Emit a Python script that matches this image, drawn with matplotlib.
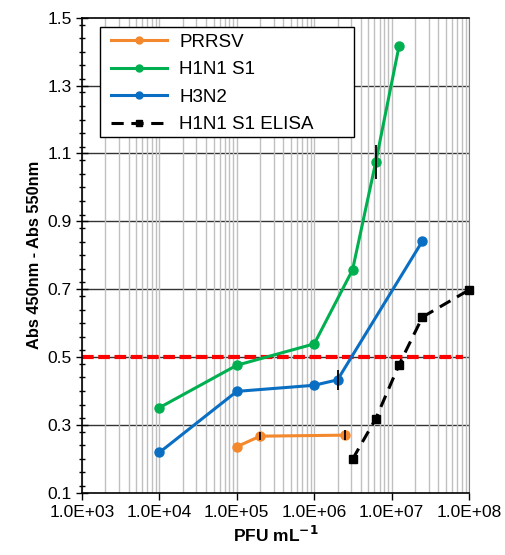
import matplotlib
matplotlib.use('Agg')
import matplotlib.pyplot as plt
import numpy as np
from matplotlib.ticker import FixedLocator, MultipleLocator, NullFormatter
from matplotlib.patches import Rectangle

plt.rcParams['font.family'] = ['Liberation Sans', 'DejaVu Sans']

# data
prrsv_x = [1e5, 2e5, 2.5e6]
prrsv_y = [0.236, 0.267, 0.270]
prrsv_err = [0.0, 0.012, 0.015]

h1n1_x = [1e4, 1e5, 1e6, 3.125e6, 6.25e6, 1.25e7]
h1n1_y = [0.351, 0.476, 0.539, 0.757, 1.076, 1.418]
h1n1_err = [0.0, 0.0, 0.0, 0.0, 0.05, 0.0]

h3n2_x = [1e4, 1e5, 1e6, 2e6, 2.5e7]
h3n2_y = [0.219, 0.399, 0.417, 0.433, 0.842]
h3n2_err = [0.0, 0.0, 0.0, 0.03, 0.0]

elisa_x = [3.125e6, 6.25e6, 1.25e7, 2.5e7, 1e8]
elisa_y = [0.199, 0.319, 0.478, 0.618, 0.698]
elisa_err = [0.01, 0.0, 0.0, 0.0, 0.0]

cutoff = 0.5

xticks = [1e3, 1e4, 1e5, 1e6, 1e7, 1e8]
xticklabels = ['1.0E+03', '1.0E+04', '1.0E+05', '1.0E+06', '1.0E+07', '1.0E+08']
yticks = [0.1, 0.3, 0.5, 0.7, 0.9, 1.1, 1.3, 1.5]

fig = plt.figure(figsize=(5.06, 5.55), dpi=100)
ax = fig.add_axes([0.162, 0.112, 0.765, 0.856])

ax.set_xscale('log')
ax.set_xlim(1e3, 1e8)
ax.set_ylim(0.1, 1.5)

# grid
ax.xaxis.set_minor_locator(FixedLocator([m * 10**e for e in range(3, 8) for m in range(2, 10)]))
ax.xaxis.set_minor_formatter(NullFormatter())
ax.grid(True, which='both', axis='x', color='#c0c0c0', lw=1.0)
for yv in yticks[1:-1]:
    ax.axhline(yv, color='#333333', lw=1.0, zorder=1)

ax.axhline(cutoff, xmin=0, xmax=0.985, color='#ff0000', lw=3, ls=(0, (2.8, 1.1)), zorder=2)

series = [
    (prrsv_x, prrsv_y, prrsv_err, '#f4882c', '-', 'o', 6.5, 'PRRSV'),
    (h1n1_x, h1n1_y, h1n1_err, '#00b050', '-', 'o', 6.5, 'H1N1 S1'),
    (h3n2_x, h3n2_y, h3n2_err, '#0a6fc2', '-', 'o', 6.5, 'H3N2'),
    (elisa_x, elisa_y, elisa_err, 'black', (0, (4, 2.5)), 's', 5.5, 'H1N1 S1 ELISA'),
]
for x, y, e, c, ls, m, ms, lab in series:
    ax.plot(x, y, color=c, lw=2.2, ls=ls, marker=m, ms=ms, label=lab, zorder=4, clip_on=False)
    ax.errorbar(x, y, yerr=e, fmt='none', ecolor='black', elinewidth=1.3, zorder=5)

ax.set_xticks(xticks)
ax.set_xticklabels(xticklabels, fontsize=12.5)
ax.set_yticks(yticks)
ax.set_yticklabels(['%.1f' % v for v in yticks], fontsize=12.5)
ax.yaxis.set_minor_locator(MultipleLocator(0.04))
ax.tick_params(axis='y', which='major', direction='inout', length=8, width=1)
ax.tick_params(axis='y', which='minor', direction='inout', length=5, width=1)
ax.tick_params(axis='x', which='major', direction='out', length=5, width=1)
ax.tick_params(axis='x', which='minor', length=0)

for s in ['left', 'bottom', 'top']:
    ax.spines[s].set_color('black')
    ax.spines[s].set_linewidth(1.2)
ax.spines['right'].set_color('#808080')

ax.set_xlabel('PFU mL$^{\\mathbf{-1}}$', fontsize=12.5, fontweight='bold')
ax.set_ylabel('Abs 450nm - Abs 550nm', fontsize=11.8, fontweight='bold')

# legend box drawn separately to get the wide Excel-style frame
box = Rectangle((0.1976, 0.7532), 0.502, 0.1982, transform=fig.transFigure,
                facecolor='white', edgecolor='black', lw=1.0, zorder=10, clip_on=False)
ax.add_patch(box)
leg = ax.legend(loc='upper left', bbox_to_anchor=(0.055, 0.982), fontsize=13.5, frameon=False,
                handlelength=3.0, borderpad=0.4, labelspacing=0.55, handletextpad=0.65,
                borderaxespad=0)
leg.set_zorder(11)
for h in leg.get_lines():
    h.set_markersize(5)

fig.savefig('out.png', dpi=100)
